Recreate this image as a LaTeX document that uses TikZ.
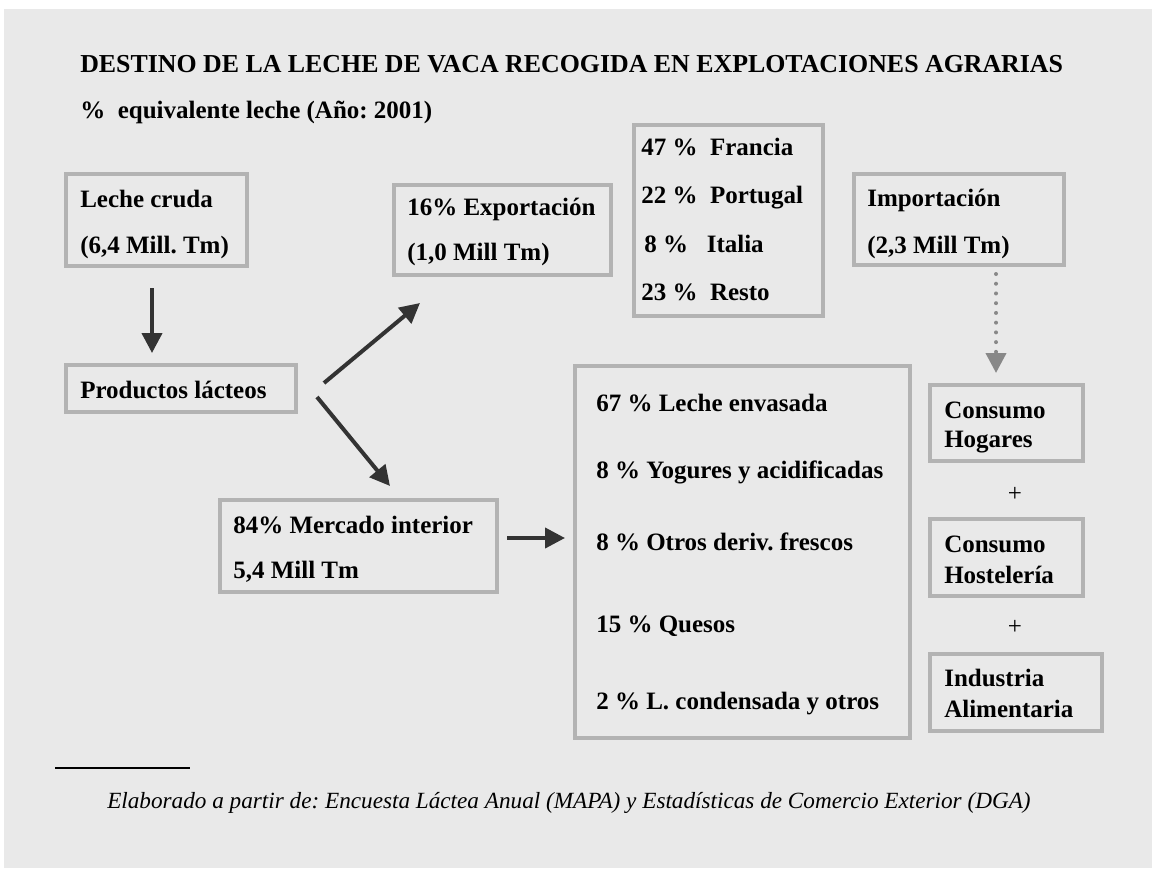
\documentclass[tikz,border=0pt]{standalone}
\usepackage{fontspec}
\setmainfont{Liberation Serif}
\usetikzlibrary{arrows.meta,fit}
\definecolor{bg}{HTML}{E9E9E9}
\definecolor{boxc}{HTML}{B3B3B3}
\definecolor{arr}{HTML}{333333}
\definecolor{dotc}{HTML}{888888}
\frenchspacing
\begin{document}
\begin{tikzpicture}[x=0.75pt,y=-0.75pt,
  box/.style={draw=boxc, line width=3pt, inner sep=0pt, rectangle},
  txt/.style={anchor=base west, inner sep=0pt, font=\fontsize{18.75}{22}\selectfont\bfseries},
  plus/.style={inner sep=0pt, font=\fontsize{18.75}{22}\selectfont},
  arrowline/.style={draw=arr, line width=3pt, -{Triangle[length=15pt,width=15pt]}},
  dotarrow/.style={draw=dotc, line width=3pt, line cap=round, dash pattern=on 0pt off 7.3pt, -{Triangle[length=15pt,width=15pt,fill=dotc]}}
]
\useasboundingbox (0,0) rectangle (1152,868);
\fill[white] (0,0) rectangle (1152,868);
\fill[bg] (4,9) rectangle (1152,868);

% titles
\node[txt, font=\fontsize{19.4}{22}\selectfont\bfseries] (title1) at (80,72) {DESTINO DE LA LECHE DE VACA RECOGIDA EN EXPLOTACIONES AGRARIAS};
\node[txt] (title2) at (80,118) {\%\ \ equivalente leche (Año: 2001)};

% boxes
\node[box, fit={(66,174) (247,266)}] (leche) {};
\node[box, fit={(66,365) (296,412)}] (prod) {};
\node[box, fit={(394,185) (611,275)}] (export) {};
\node[box, fit={(634,125) (823,316)}] (paises) {};
\node[box, fit={(854,174) (1064,265)}] (import) {};
\node[box, fit={(220,500) (497,592)}] (mercado) {};
\node[box, fit={(575,366) (910,738)}] (destino) {};
\node[box, fit={(930,385) (1083,461)}] (hogares) {};
\node[box, fit={(930,519) (1083,596)}] (hosteleria) {};
\node[box, fit={(930,654) (1102,731)}] (industria) {};

% texts
\node[txt] (l1) at (80,207) {Leche cruda};
\node[txt] (l2) at (80,253) {(6,4 Mill. Tm)};
\node[txt] (p1) at (80,398) {Productos lácteos};
\node[txt] (e1) at (407,215) {16\% Exportación};
\node[txt] (e2) at (407,260) {(1,0 Mill Tm)};
\node[txt] (c1) at (641,155) {47 \%\ \ Francia};
\node[txt] (c2) at (641,203) {22 \%\ \ Portugal};
\node[txt] (c3) at (644,252) {8 \%\ \ \ Italia};
\node[txt] (c4) at (641,300) {23 \%\ \ Resto};
\node[txt] (i1) at (867,206) {Importación};
\node[txt] (i2) at (867,253) {(2,3 Mill Tm)};
\node[txt] (m1) at (233,533) {84\% Mercado interior};
\node[txt] (m2) at (233,578) {5,4 Mill Tm};
\node[txt] (d1) at (596,411) {67 \% Leche envasada};
\node[txt] (d2) at (596,478) {8 \% Yogures y acidificadas};
\node[txt] (d3) at (596,550) {8 \% Otros deriv. frescos};
\node[txt] (d4) at (596,632) {15 \% Quesos};
\node[txt] (d5) at (596,709) {2 \% L. condensada y otros};
\node[txt] (h1) at (944,418) {Consumo};
\node[txt] (h2) at (944,447) {Hogares};
\node[txt] (s1) at (944,552) {Consumo};
\node[txt] (s2) at (944,583) {Hostelería};
\node[txt] (n1) at (944,686) {Industria};
\node[txt] (n2) at (944,717) {Alimentaria};
\node[plus] (plus1) at (1015,494) {+};
\node[plus] (plus2) at (1015,627) {+};

% arrow end points
\coordinate (a1s) at (152,288);
\coordinate (a1e) at (152,353);
\coordinate (a2s) at (324,383);
\coordinate (a2e) at (420,303);
\coordinate (a3s) at (317,397);
\coordinate (a3e) at (390,486);
\coordinate (a4s) at (507,538);
\coordinate (a4e) at (565,538);
\coordinate (a5s) at (996,274);
\coordinate (a5e) at (996,373);

\draw[arrowline] (a1s) -- (a1e);
\draw[arrowline] (a2s) -- (a2e);
\draw[arrowline] (a3s) -- (a3e);
\draw[arrowline] (a4s) -- (a4e);
\draw[dotarrow] (a5s) -- (a5e);

% footnote
\coordinate (fl1) at (55,768);
\coordinate (fl2) at (190,768);
\draw[black, line width=0.9pt] (fl1) -- (fl2);
\node[anchor=base west, inner sep=0pt, font=\fontsize{17.4}{20}\selectfont\itshape] (foot) at (107,808) {Elaborado a partir de: Encuesta Láctea Anual (MAPA) y Estadísticas de Comercio Exterior (DGA)};
\end{tikzpicture}
\end{document}
